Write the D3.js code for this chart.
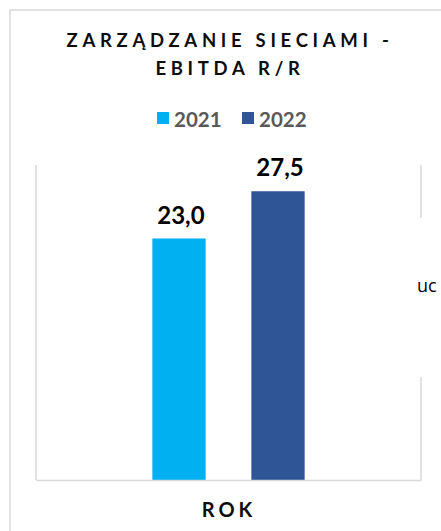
<!DOCTYPE html>
<html>
<head>
<meta charset="utf-8">
<script src="https://cdn.jsdelivr.net/npm/d3@7"></script>
<style>
  html, body { margin: 0; padding: 0; background: #fff; overflow: hidden; }
  svg { display: block; }
</style>
</head>
<body>
<div id="chart"></div>
<script>
// data
var categories = ["ROK"];
var series = ["2021", "2022"];
var values = [23.0, 27.5];
var seriesColors = ["#00b0f0", "#2f5597"];
var titleLines = ["ZARZĄDZANIE SIECIAMI -", "EBITDA R/R"];

var W = 441, H = 531;
var plot = {left: 36, right: 421, top: 165, bottom: 480};

var svg = d3.select("#chart").append("svg")
    .attr("width", W)
    .attr("height", H);

// outer chart border (runs off the right and bottom edge)
svg.append("rect")
    .attr("x", 10).attr("y", 10)
    .attr("width", W + 20).attr("height", H + 20)
    .attr("fill", "#fff")
    .attr("stroke", "#d9d9d9")
    .attr("stroke-width", 1.5);

// title
svg.append("text")
    .attr("text-anchor", "middle")
    .style("font-family", "Lato")
    .style("font-weight", "bold")
    .style("font-size", "18.5px")
    .style("letter-spacing", "4.7px")
    .attr("fill", "#0d0d0d")
    .selectAll("tspan")
    .data(titleLines)
    .enter().append("tspan")
    .attr("x", 230)
    .attr("y", function (d, i) { return 47 + i * 28; })
    .text(function (d) { return d; });

// scales
var y = d3.scaleLinear().domain([0, 30]).range([plot.bottom, plot.top]);

var x0 = d3.scaleBand()
    .domain(categories)
    .range([plot.left, plot.right])
    .paddingOuter(0.764);

var x1 = d3.scaleBand()
    .domain(series)
    .range([0, x0.bandwidth()])
    .paddingInner(0.462);

// plot area frame (left, right)
var frame = svg.append("g")
    .attr("stroke", "#d9d9d9")
    .attr("stroke-width", 1.5);
frame.append("line")
    .attr("x1", plot.left).attr("x2", plot.left)
    .attr("y1", plot.top).attr("y2", plot.bottom);
frame.append("line")
    .attr("x1", plot.right).attr("x2", plot.right)
    .attr("y1", plot.top).attr("y2", plot.bottom);

// bars
var data = series.map(function (s, i) {
    return {cat: categories[0], series: s, value: values[i], color: seriesColors[i]};
});

svg.append("g")
    .selectAll("rect")
    .data(data)
    .enter().append("rect")
    .attr("x", function (d) { return x0(d.cat) + x1(d.series); })
    .attr("y", function (d) { return y(d.value); })
    .attr("width", x1.bandwidth())
    .attr("height", function (d) { return y(0) - y(d.value); })
    .attr("fill", function (d) { return d.color; });

// baseline axis
var xAxis = svg.append("g")
    .attr("transform", "translate(0," + plot.bottom + ")")
    .call(d3.axisBottom(x0).tickSize(0).tickFormat(""));
xAxis.select(".domain").attr("stroke", "#d9d9d9").attr("stroke-width", 1.5);

// value labels
svg.append("g")
    .selectAll("text")
    .data(data)
    .enter().append("text")
    .attr("x", function (d) { return x0(d.cat) + x1(d.series) + x1.bandwidth() / 2 + 2; })
    .attr("y", function (d) { return y(d.value) - 15; })
    .attr("text-anchor", "middle")
    .style("font-family", "Lato")
    .style("font-weight", "bold")
    .style("font-size", "24px")
    .attr("fill", "#000")
    .text(function (d) { return d3.format(".1f")(d.value).replace(".", ","); });

// category axis title
svg.append("text")
    .attr("x", 229)
    .attr("y", 517)
    .attr("text-anchor", "middle")
    .style("font-family", "Lato")
    .style("font-weight", "bold")
    .style("font-size", "20px")
    .style("letter-spacing", "4px")
    .attr("fill", "#0d0d0d")
    .text(categories[0]);

// legend
var legendX = [157, 242];
var legend = svg.append("g")
    .selectAll("g")
    .data(series)
    .enter().append("g")
    .attr("transform", function (d, i) { return "translate(" + legendX[i] + ",112)"; });
legend.append("rect")
    .attr("width", 12).attr("height", 12)
    .attr("fill", function (d, i) { return seriesColors[i]; });
legend.append("text")
    .attr("x", 17)
    .attr("y", 14.5)
    .style("font-family", "Lato")
    .style("font-weight", "bold")
    .style("font-size", "20.5px")
    .attr("fill", "#595959")
    .text(function (d) { return d; });

// clipped side label covering the right frame line
svg.append("rect")
    .attr("x", 410).attr("y", 218)
    .attr("width", 40).attr("height", 159)
    .attr("fill", "#fff");
svg.append("text")
    .attr("x", 417)
    .attr("y", 292)
    .style("font-family", "Open Sans")
    .style("font-size", "18px")
    .attr("fill", "#000")
    .text("uc");
</script>
</body>
</html>
